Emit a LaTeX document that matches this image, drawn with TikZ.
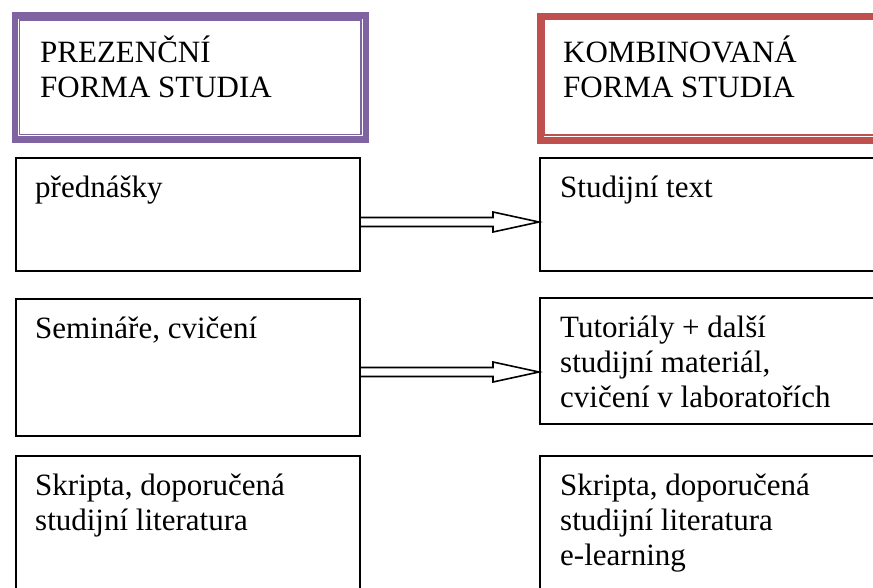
\documentclass[tikz,border=0pt]{standalone}
\usepackage{fontspec}
\setmainfont{Liberation Serif}
\usetikzlibrary{calc,positioning}
\definecolor{hdrpurple}{HTML}{8064A2}
\definecolor{hdrred}{HTML}{C0504D}
% top-aligned lines, so that base is the first baseline
\newcommand{\toplines}[1]{\begin{tabular}[t]{@{}l@{}}#1\end{tabular}}
% hollow arrow: double shaft and open head, from #1 to tip #2
\newcommand{\hollowarrow}[2]{%
  \draw[line width=1.6pt,line join=miter]
    ($(#1)+(0,-4.5)$) -- ($(#2)+(-46,-4.5)$) -- ($(#2)+(-46,-10)$) -- (#2)
    -- ($(#2)+(-46,10)$) -- ($(#2)+(-46,4.5)$) -- ($(#1)+(0,4.5)$);}

\begin{document}
\begin{tikzpicture}[x=1pt,y=-1pt,
  box/.style={draw,line width=1.6pt,minimum width=344pt,anchor=north west,inner sep=0pt},
  hdr/.style={line width=6.5pt,minimum width=351pt,minimum height=124pt,anchor=north west,inner sep=0pt},
  txt/.style={anchor=base west,inner sep=0pt,font=\fontsize{31}{35}\selectfont}]
\useasboundingbox (0,0) rectangle (873,587);
\clip (0,0) rectangle (873,587);
% headers
\node[hdr,draw=hdrpurple] (hp) at (11.5,12) {};
\draw[hdrpurple,line width=1.5pt] ($(hp.north west)+(8,8)$) rectangle ($(hp.south east)+(-8,-8)$);
\node[hdr,draw=hdrred,line width=7pt,minimum height=124.5pt] (hk) at (536.5,12.5) {};
\draw[hdrred,line width=1.5pt] ($(hk.north west)+(7.5,7)$) rectangle ($(hk.south east)+(-7.5,-9)$);
\node[txt] (hpt) at ($(hp.north west)+(28.5,50)$) {\toplines{PREZENČNÍ\\FORMA STUDIA}};
\node[txt] (hkt) at ($(hk.north west)+(26.5,50)$) {\toplines{KOMBINOVANÁ\\FORMA STUDIA}};
% boxes
\node[box,minimum height=113pt] (p1) at (15,157) {};
\node[box,minimum height=137pt] (p2) at (15,298) {};
\node[box,minimum height=140pt] (p3) at (15,455) {};
\node[box,minimum height=113pt,minimum width=345pt] (k1) at (539,157) {};
\node[box,minimum height=126pt,minimum width=345pt] (k2) at (539,297) {};
\node[box,minimum height=140pt,minimum width=345pt] (k3) at (539,455) {};
\node[txt] (p1t) at ($(p1.north west)+(20,40)$) {přednášky};
\node[txt] (p2t) at ($(p2.north west)+(20,40)$) {Semináře, cvičení};
\node[txt] (p3t) at ($(p3.north west)+(20,40)$) {\toplines{Skripta, doporučená\\studijní literatura}};
\node[txt] (k1t) at ($(k1.north west)+(21,40)$) {Studijní text};
\node[txt] (k2t) at ($(k2.north west)+(21,40)$) {\toplines{Tutoriály + další\\studijní materiál,\\cvičení v laboratořích}};
\node[txt] (k3t) at ($(k3.north west)+(21,40)$) {\toplines{Skripta, doporučená\\studijní literatura\\e-learning}};
% arrows
\coordinate (y1) at (0,222);
\coordinate (y2) at (0,372);
\coordinate (a1) at (p1.east |- y1);
\coordinate (b1) at (k1.west |- y1);
\coordinate (a2) at (p2.east |- y2);
\coordinate (b2) at (k2.west |- y2);
\hollowarrow{a1}{b1}
\hollowarrow{a2}{b2}
\end{tikzpicture}
\end{document}
